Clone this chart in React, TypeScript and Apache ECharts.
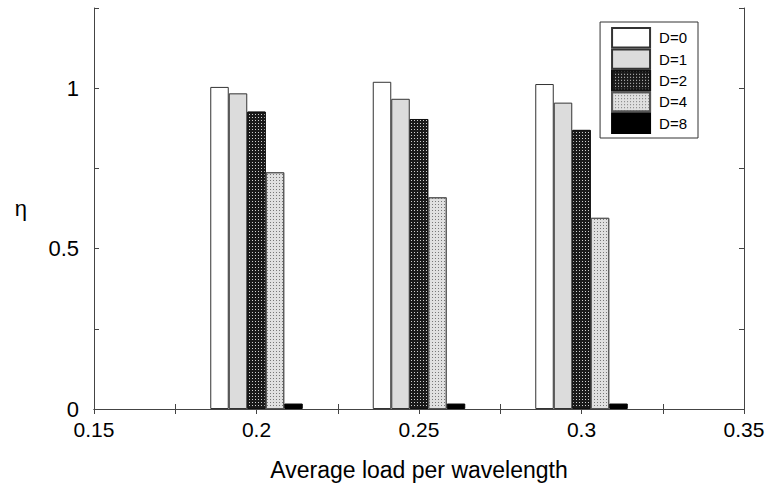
import React, { useEffect, useRef } from "react";
import * as echarts from "echarts";

const loads = [0.2, 0.25, 0.3];
const seriesNames = ["D=0", "D=1", "D=2", "D=4", "D=8"];
const etaD0 = [1.004, 1.02, 1.013];
const etaD1 = [0.984, 0.967, 0.955];
const etaD2 = [0.927, 0.904, 0.87];
const etaD4 = [0.738, 0.66, 0.596];
const etaD8 = [0.017, 0.017, 0.017];
const yTickLabels = [0, 0.5, 1];
const xTickLabels = [0.15, 0.2, 0.25, 0.3, 0.35];

const FONT = "'Liberation Sans', Arial, Helvetica, sans-serif";

export default function App() {
  const ref = useRef<HTMLDivElement>(null);
  useEffect(() => {
    document.body.style.margin = "0";
    const chart = echarts.init(ref.current!, null, { renderer: "svg" });
    const values = [etaD0, etaD1, etaD2, etaD4, etaD8];
    const styles: any[] = [
      { color: "#ffffff", borderColor: "#333", borderWidth: 1 },
      { color: "#dcdcdc", borderColor: "#333", borderWidth: 1 },
      {
        color: "#1a1a1a",
        borderColor: "#111",
        borderWidth: 1,
        decal: {
          symbol: "rect",
          symbolSize: 1,
          color: "#cfcfcf",
          backgroundColor: "#111",
          dashArrayX: [1, 2],
          dashArrayY: [1, 2],
          rotation: 0,
        },
      },
      {
        color: "#e0e0e0",
        borderColor: "#555",
        borderWidth: 1,
        decal: {
          symbol: "rect",
          symbolSize: 1,
          color: "#777",
          backgroundColor: "#f4f4f4",
          dashArrayX: [1, 2],
          dashArrayY: [1, 2],
          rotation: 0,
        },
      },
      { color: "#000000", borderColor: "#000", borderWidth: 1 },
    ];
    const isLabel = (v: number, arr: number[]) =>
      arr.some((t) => Math.abs(t - v) < 1e-6);
    const fmt = (v: number) => String(Math.round(v * 1000) / 1000);
    const axisLine = { show: true, lineStyle: { color: "#444", width: 1 } };
    const tick = { show: true, inside: true, length: 5, lineStyle: { color: "#444" } };
    chart.setOption({
      animation: false,
      backgroundColor: "#fff",
      grid: { left: 94, right: 25, top: 8, bottom: 71 },
      legend: {
        orient: "vertical",
        right: 71,
        top: 22,
        itemWidth: 38,
        itemHeight: 19.4,
        itemGap: 0,
        padding: [5, 11, 4, 11],
        borderColor: "#333",
        borderWidth: 1,
        backgroundColor: "#fff",
        icon: "rect",
        textStyle: {
          fontFamily: FONT,
          fontSize: 15,
          color: "#000",
          padding: [0, 0, 0, 4],
          lineHeight: 15,
        },
        data: seriesNames,
      },
      xAxis: [
        {
          type: "value",
          min: 0.15,
          max: 0.35,
          interval: 0.025,
          name: "Average load per wavelength",
          nameLocation: "middle",
          nameGap: 49,
          nameTextStyle: { fontFamily: FONT, fontSize: 23, color: "#000" },
          axisLine,
          axisTick: tick,
          axisLabel: {
            fontFamily: FONT,
            fontSize: 21,
            color: "#000",
            margin: 10,
            formatter: (v: number) => (isLabel(v, xTickLabels) ? fmt(v) : ""),
          },
          splitLine: { show: false },
        },
        {
          type: "value",
          position: "top",
          min: 0.15,
          max: 0.35,
          interval: 0.025,
          axisLine,
          axisTick: tick,
          axisLabel: { show: false },
          splitLine: { show: false },
        },
      ],
      yAxis: [
        {
          type: "value",
          min: 0,
          max: 1.25,
          interval: 0.25,
          name: "η",
          nameLocation: "middle",
          nameRotate: 0,
          nameGap: 67,
          nameTextStyle: { fontFamily: FONT, fontSize: 22, color: "#000" },
          axisLine,
          axisTick: tick,
          axisLabel: {
            fontFamily: FONT,
            fontSize: 22,
            color: "#000",
            margin: 15,
            formatter: (v: number) => (isLabel(v, yTickLabels) ? fmt(v) : ""),
          },
          splitLine: { show: false },
        },
        {
          type: "value",
          position: "right",
          min: 0,
          max: 1.25,
          interval: 0.25,
          axisLine,
          axisTick: tick,
          axisLabel: { show: false },
          splitLine: { show: false },
        },
      ],
      series: seriesNames.map((name, i) => ({
        name,
        type: "bar",
        xAxisIndex: 0,
        yAxisIndex: 0,
        barWidth: 18.5,
        barGap: "0%",
        itemStyle: styles[i],
        emphasis: { disabled: true },
        data: loads.map((x, j) => [x, values[i][j]]),
      })),
    });
    return () => chart.dispose();
  }, []);
  return <div ref={ref} style={{ width: 769, height: 486 }} />;
}
